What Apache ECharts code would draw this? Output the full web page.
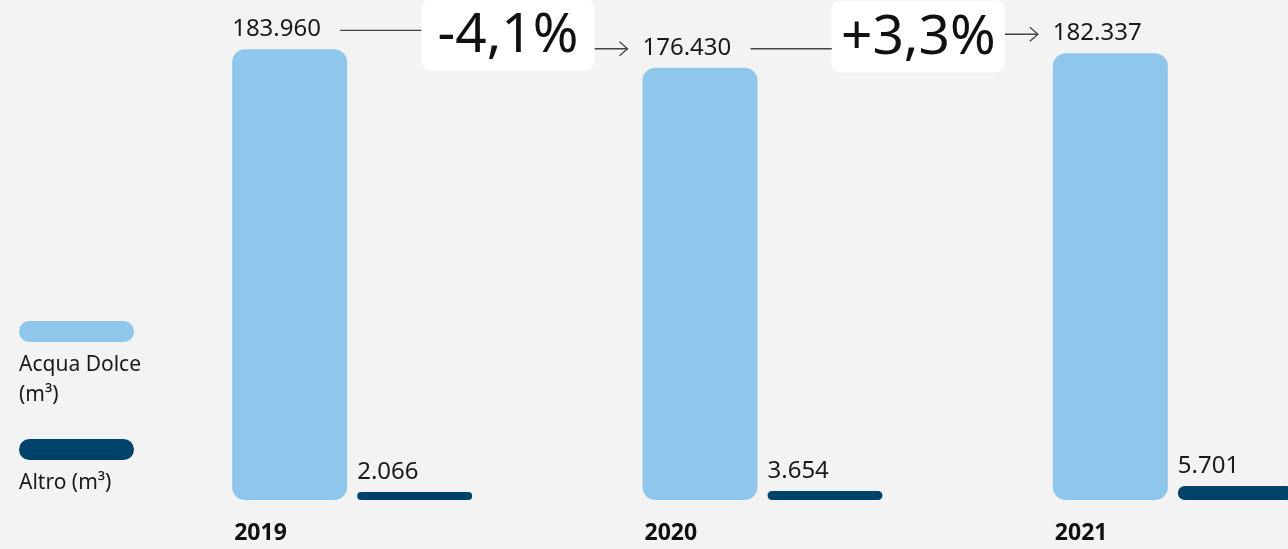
<!DOCTYPE html>
<html>
<head>
<meta charset="utf-8">
<script src="https://cdn.jsdelivr.net/npm/echarts@6/dist/echarts.min.js"></script>
<style>
  html, body { margin: 0; padding: 0; background: #f3f3f3; }
  #chart { width: 1288px; height: 549px; }
</style>
</head>
<body>
<div id="chart"></div>
<script>
// Water withdrawal by year
const years = ['2019', '2020', '2021'];
const acquaDolce = [183960, 176430, 182337];
const altro = [2066, 3654, 5701];
const legendNames = ['Acqua Dolce\n(m³)', 'Altro (m³)'];

const LIGHT = '#8fc7ec';
const DARK = '#00436a';
const TEXT = '#1a1a1a';
const FONT = '"Noto Sans", "Open Sans", sans-serif';
const BAR_W = 115;
const BAR_GAP = 10;

// Italian thousands separator
function fmt(v) {
  return String(v).replace(/\B(?=(\d{3})+(?!\d))/g, '.');
}
function pct(a, b) {
  const p = (b - a) / a * 100;
  return (p >= 0 ? '+' : '-') + Math.abs(p).toFixed(1).replace('.', ',') + '%';
}

const chart = echarts.init(document.getElementById('chart'), null, { renderer: 'canvas' });

const valueLabel = {
  show: true,
  position: [0, -8],
  align: 'left',
  verticalAlign: 'bottom',
  color: TEXT,
  fontFamily: FONT,
  fontSize: 24,
  formatter: p => fmt(p.value)
};

chart.setOption({
  backgroundColor: '#f3f3f3',
  animation: false,
  // plot area runs past the right edge so the last group is partly cut off
  grid: {
    left: 147, width: 1231, top: 10, height: 490,
    containLabel: false, outerBoundsMode: 'none'
  },
  xAxis: {
    type: 'category',
    data: years,
    axisLine: { show: false },
    axisTick: { show: false },
    axisLabel: {
      margin: 22,
      align: 'center',
      formatter: v => '{y|' + v + '}',
      rich: {
        y: {
          width: 2 * BAR_W + BAR_GAP,
          align: 'left',
          padding: [0, 0, 0, 4],
          fontFamily: FONT,
          fontWeight: 'bold',
          fontSize: 23,
          color: '#111'
        }
      }
    }
  },
  yAxis: {
    type: 'value',
    min: 0,
    max: 200000,
    show: false,
    splitLine: { show: false }
  },
  series: [
    {
      name: 'Acqua Dolce',
      type: 'bar',
      data: acquaDolce,
      barWidth: BAR_W,
      barGap: (BAR_GAP / BAR_W * 100).toFixed(2) + '%',
      itemStyle: { color: LIGHT, borderRadius: 13 },
      label: valueLabel
    },
    {
      name: 'Altro',
      type: 'bar',
      data: altro,
      barWidth: BAR_W,
      barMinHeight: 8,
      itemStyle: { color: DARK, borderRadius: 7 },
      label: valueLabel
    }
  ]
});

// Year-over-year change boxes and connector arrows, positioned from the axis scales
const groupW = 2 * BAR_W + BAR_GAP;
const tops = acquaDolce.map((v, i) => chart.convertToPixel({ xAxisIndex: 0, yAxisIndex: 0 }, [i, v]));
const barLeft = tops.map(p => p[0] - groupW / 2);
const labelY = tops.map(p => p[1] - 19);

const graphics = [];
const BOX_W = 173, BOX_H = 72;
for (let i = 0; i < acquaDolce.length - 1; i++) {
  const boxRight = barLeft[i + 1] - 48;
  const boxLeft = boxRight - BOX_W;
  const boxCy = (labelY[i] + labelY[i + 1]) / 2 - 5;
  const boxTop = boxCy - BOX_H / 2;
  const yA = labelY[i], yB = labelY[i + 1];
  const tipX = barLeft[i + 1] - 15;
  const lineStyle = { stroke: '#444', lineWidth: 1.3 };

  graphics.push({
    type: 'line', silent: true,
    shape: { x1: barLeft[i] + 108, y1: yA, x2: boxLeft, y2: yA },
    style: lineStyle
  });
  graphics.push({
    type: 'line', silent: true,
    shape: { x1: boxRight, y1: yB, x2: tipX, y2: yB },
    style: lineStyle
  });
  graphics.push({
    type: 'polyline', silent: true,
    shape: { points: [[tipX - 8, yB - 7], [tipX, yB], [tipX - 8, yB + 7]] },
    style: { stroke: '#444', lineWidth: 1.3, fill: null }
  });
  graphics.push({
    type: 'rect', silent: true,
    shape: { x: boxLeft, y: boxTop, width: BOX_W, height: BOX_H, r: 9 },
    style: { fill: '#ffffff' }
  });
  graphics.push({
    type: 'text', silent: true,
    x: boxLeft + BOX_W / 2, y: boxCy + 2,
    style: {
      text: pct(acquaDolce[i], acquaDolce[i + 1]),
      fontFamily: FONT, fontSize: 55, fill: '#111',
      align: 'center', verticalAlign: 'middle'
    }
  });
}

// Legend: pill swatch with caption beneath
const legendItems = [
  { color: LIGHT, text: legendNames[0], y: 321 },
  { color: DARK, text: legendNames[1], y: 439 }
];
legendItems.forEach(it => {
  graphics.push({
    type: 'rect', silent: true,
    shape: { x: 19, y: it.y, width: 115, height: 21, r: 10.5 },
    style: { fill: it.color }
  });
  graphics.push({
    type: 'text', silent: true,
    x: 19, y: it.y + 29,
    style: {
      text: it.text, fontFamily: FONT, fontSize: 21, lineHeight: 30,
      fill: TEXT, align: 'left', verticalAlign: 'top'
    }
  });
});

chart.setOption({ graphic: graphics });
</script>
</body>
</html>
